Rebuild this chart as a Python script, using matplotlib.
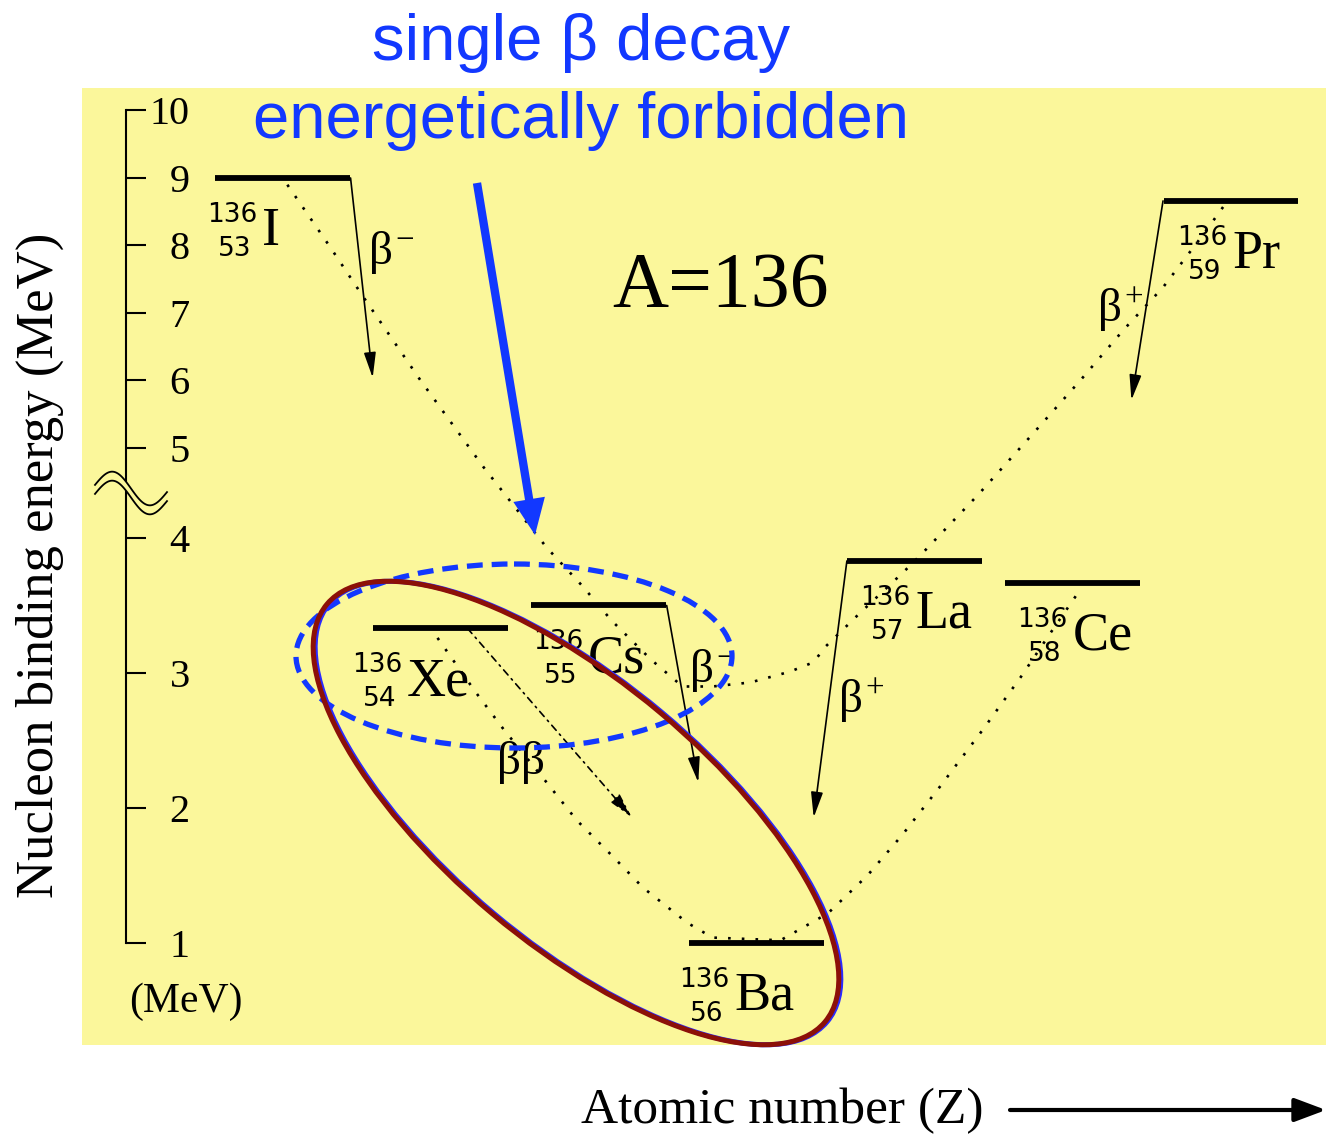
import numpy as np
import matplotlib
matplotlib.use("Agg")
import matplotlib.pyplot as plt
from matplotlib.patches import Ellipse

plt.rcParams['font.family'] = ['Liberation Serif', 'DejaVu Serif']
plt.rcParams['mathtext.fontset'] = 'custom'
plt.rcParams['mathtext.rm'] = 'Liberation Serif'
plt.rcParams['mathtext.it'] = 'Liberation Serif'

# isobars with A = 136
mass_number = 136
symbols = ['I', 'Xe', 'Cs', 'Ba', 'La', 'Ce', 'Pr']
z_values = [53, 54, 55, 56, 57, 58, 59]
energies = [9.0, 3.33, 3.50, 1.0, 3.83, 3.67, 8.66]

# single beta decays: (Z, E) start -> end
beta_minus = [((53.43, 9.0), (53.57, 6.04)), ((55.43, 3.50), (55.63, 2.19))]
beta_plus = [((56.57, 3.83), (56.36, 1.93)), ((58.57, 8.66), (58.37, 5.71))]
double_beta = ((54.17, 3.33), (55.21, 1.93))

# mass parabola, odd Z
odd_z = [53.03, 53.30, 53.51, 53.87, 54.27, 54.67, 54.90, 55.08, 55.33, 55.53,
         55.72, 55.96, 56.21, 56.36, 56.43, 56.64, 56.93, 57.05, 57.40, 57.75,
         58.05, 58.32, 58.57, 58.83, 58.95]
odd_e = [8.90, 7.98, 7.24, 6.01, 4.79, 3.93, 3.64, 3.39, 3.10, 2.90,
         2.90, 2.93, 3.01, 3.08, 3.19, 3.43, 3.75, 3.89, 4.48, 5.22,
         6.01, 6.75, 7.38, 8.18, 8.57]
# mass parabola, even Z
even_z = [53.98, 54.22, 54.40, 54.67, 54.86, 55.09, 55.28, 55.56, 55.72,
          56.15, 56.45, 56.70, 56.92, 57.16, 57.43, 57.67, 57.86, 58.03]
even_e = [3.26, 2.86, 2.58, 2.19, 1.91, 1.64, 1.41, 1.15, 1.04,
          1.02, 1.22, 1.50, 1.80, 2.16, 2.58, 2.97, 3.30, 3.59]

tick_values = [1, 2, 3, 4, 5, 6, 7, 8, 9, 10]

# label offsets (pixels) of the "136" block from the left end of each level
label_dx = [40, 27, 50, 38, 61, 60, 62]

yellow = '#fbf79b'
blue = '#1238ff'
small_font = ['DejaVu Sans']


# broken energy axis: full scale below 4 MeV, half scale above 5 MeV
def fwd(e):
    e = np.asarray(e, dtype=float)
    return np.where(e <= 4, e, np.where(e <= 5, 4 + (e - 4) * 2 / 3, 14 / 3 + (e - 5) * 0.5))


def inv(f):
    f = np.asarray(f, dtype=float)
    return np.where(f <= 4, f, np.where(f <= 14 / 3, 4 + (f - 4) * 1.5, 5 + (f - 14 / 3) * 2))


fig = plt.figure(figsize=(13.26, 11.35), dpi=100)
ax = fig.add_axes([82 / 1326, 1 - 1045 / 1135, 1 - 82 / 1326, (1045 - 88) / 1135])
ax.set_facecolor(yellow)
ax.set_yscale('function', functions=(fwd, inv))
ax.set_xlim(51.731, 59.601)
ax.set_ylim(0.2444, 10.333)

for s in ['top', 'right', 'bottom']:
    ax.spines[s].set_visible(False)
ax.spines['left'].set_position(('data', 52.009))
ax.spines['left'].set_bounds(1, 10)
ax.spines['left'].set_linewidth(1.5)
ax.set_xticks([])
ax.set_yticks(tick_values)
ax.yaxis.set_minor_locator(plt.NullLocator())
ax.set_yticklabels([str(t) for t in tick_values])
ax.tick_params(axis='y', direction='in', length=14.5, width=1.5, pad=-46, labelsize=29)

half = 0.427
for sym, z, e, dx in zip(symbols, z_values, energies, label_dx):
    ax.plot([z - half, z + half], [e, e], color='black', lw=4.2, solid_capstyle='butt', zorder=3)
    anchor = (z - half, e)
    ax.annotate(str(mass_number), anchor, xytext=(dx + 2, -44), textcoords='offset pixels',
                ha='right', va='baseline', fontsize=19, family=small_font)
    ax.annotate(str(z), anchor, xytext=(dx - 4, -78), textcoords='offset pixels',
                ha='right', va='baseline', fontsize=19, family=small_font)
    ax.annotate(sym, anchor, xytext=(dx + 7, -67), textcoords='offset pixels',
                ha='left', va='baseline', fontsize=39)

ax.plot(odd_z, odd_e, color='black', lw=1.9, ls=(0, (1.0, 4.2)), zorder=2)
ax.plot(even_z, even_e, color='black', lw=1.9, ls=(0, (1.0, 4.2)), zorder=2)

head = dict(arrowstyle='-|>,head_length=1.1,head_width=0.26', color='black',
            lw=1.2, shrinkA=0, shrinkB=0, mutation_scale=14)
for start, end in beta_minus + beta_plus:
    ax.annotate('', xy=end, xytext=start, arrowprops=head)
ax.annotate('', xy=double_beta[1], xytext=double_beta[0],
            arrowprops=dict(head, linestyle=(0, (4, 3, 1, 3))))

ax.text(53.69, 7.90, r'$\beta^{-}$', fontsize=34, ha='center', va='center')
ax.text(55.72, 3.02, r'$\beta^{-}$', fontsize=34, ha='center', va='center')
ax.text(56.66, 2.79, r'$\beta^{+}$', fontsize=34, ha='center', va='center')
ax.text(58.30, 7.04, r'$\beta^{+}$', fontsize=34, ha='center', va='center')
ax.text(54.51, 2.34, 'ββ', fontsize=34, ha='center', va='center')
ax.text(55.77, 7.38, 'A=136', fontsize=56, ha='center', va='center')

# overlay in pixel units for the annotations around the plot
ov = fig.add_axes([0, 0, 1, 1], facecolor='none')
ov.set_xlim(0, 1326)
ov.set_ylim(1135, 0)
ov.axis('off')

# axis break mark
xs = np.linspace(95, 167, 80)
wave = 493 + 0.1 * (xs - 131) - 15 * np.sin(2 * np.pi * (xs - 95) / 72)
ov.fill_between(xs, wave - 4.5, wave + 4.5, color=yellow, lw=0)
ov.plot(xs, wave - 4.5, color='black', lw=1.3)
ov.plot(xs, wave + 4.5, color='black', lw=1.3)

ov.text(186, 1012, '(MeV)', fontsize=30, ha='center', va='baseline')
ov.text(40, 565, 'Nucleon binding energy (MeV)', fontsize=38, rotation=90,
        ha='center', va='center')
ov.text(782, 1123, 'Atomic number (Z)', fontsize=37, ha='center', va='baseline')
ov.annotate('', xy=(1326, 1110), xytext=(1010, 1110),
            arrowprops=dict(arrowstyle='-|>,head_length=1.6,head_width=0.6', color='black',
                            lw=3, shrinkA=0, shrinkB=0, mutation_scale=12))

blue_font = ['Liberation Sans', 'DejaVu Sans']
ov.text(581, 60, 'single β decay', fontsize=47, color=blue, ha='center',
        va='baseline', family=blue_font)
ov.text(581, 138, 'energetically forbidden', fontsize=47, color=blue, ha='center',
        va='baseline', family=blue_font)
ov.annotate('', xy=(535, 535), xytext=(477, 183),
            arrowprops=dict(arrowstyle='simple,head_length=2.6,head_width=2.3,tail_width=0.6',
                            color=blue, lw=0, shrinkA=0, shrinkB=0, mutation_scale=10))

ov.add_patch(Ellipse((514, 656), 436, 184, angle=0, fill=False, ec=blue, lw=3.8,
                     ls=(0, (3.0, 1.7))))
ov.add_patch(Ellipse((578, 813), 650, 262, angle=40, fill=False, ec='#2a2aff', lw=3.6))
ov.add_patch(Ellipse((576, 813), 650, 262, angle=40, fill=False, ec='#8c1008', lw=3.6))

fig.savefig('out.png', dpi=100)
